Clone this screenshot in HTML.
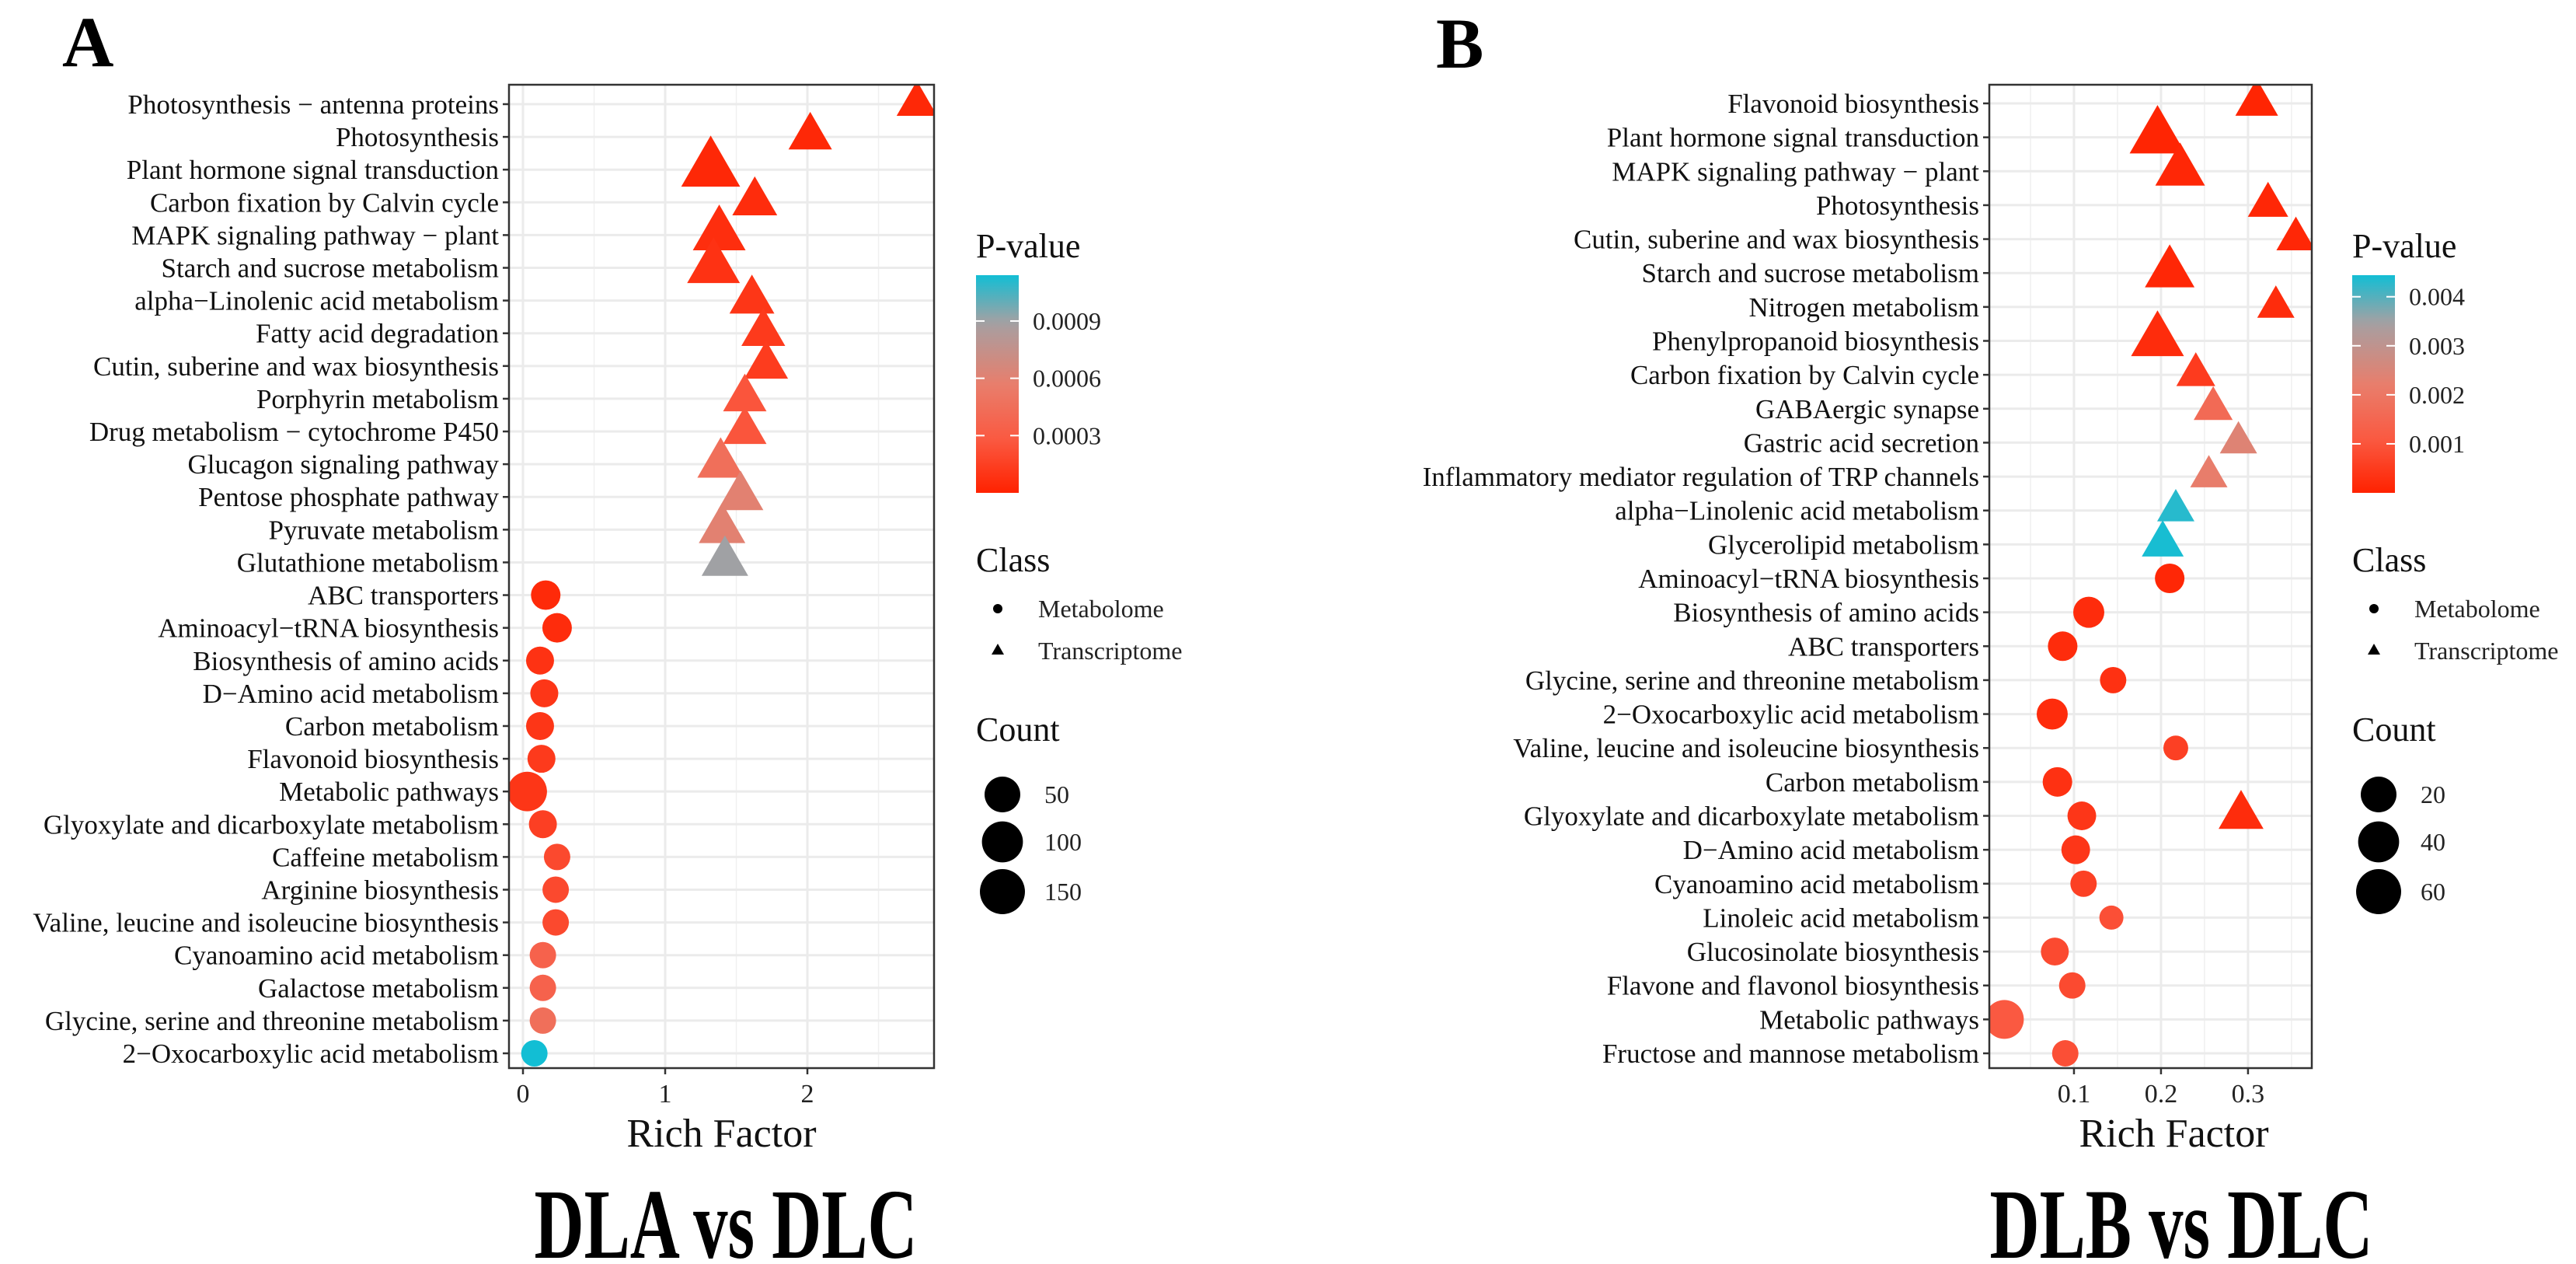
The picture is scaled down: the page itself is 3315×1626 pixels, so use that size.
<!DOCTYPE html>
<html><head><meta charset="utf-8">
<style>
html,body{margin:0;padding:0;background:#fff;}
svg{display:block;font-family:"Liberation Serif","Times New Roman",serif;}
svg text{font-family:"Liberation Serif","Times New Roman",serif;}
</style></head>
<body>
<svg id="chart" width="3315" height="1626" viewBox="0 0 3315 1626" xmlns="http://www.w3.org/2000/svg">
<rect x="0" y="0" width="3315" height="1626" fill="#fff"/>
<text x="80" y="85" font-size="92" font-weight="bold">A</text>
<text x="1848" y="87" font-size="92" font-weight="bold">B</text>
<text x="934" y="1618" font-size="128" font-weight="bold" text-anchor="middle" textLength="493" lengthAdjust="spacingAndGlyphs">DLA vs DLC</text>
<text x="2807" y="1618" font-size="128" font-weight="bold" text-anchor="middle" textLength="493" lengthAdjust="spacingAndGlyphs">DLB vs DLC</text>
<g id="panelA"></g>
<g id="panelB"></g>
</svg>
<script>
// ===== Panel A data =====
const catsA = ["Photosynthesis − antenna proteins","Photosynthesis","Plant hormone signal transduction","Carbon fixation by Calvin cycle","MAPK signaling pathway − plant","Starch and sucrose metabolism","alpha−Linolenic acid metabolism","Fatty acid degradation","Cutin, suberine and wax biosynthesis","Porphyrin metabolism","Drug metabolism − cytochrome P450","Glucagon signaling pathway","Pentose phosphate pathway","Pyruvate metabolism","Glutathione metabolism","ABC transporters","Aminoacyl−tRNA biosynthesis","Biosynthesis of amino acids","D−Amino acid metabolism","Carbon metabolism","Flavonoid biosynthesis","Metabolic pathways","Glyoxylate and dicarboxylate metabolism","Caffeine metabolism","Arginine biosynthesis","Valine, leucine and isoleucine biosynthesis","Cyanoamino acid metabolism","Galactose metabolism","Glycine, serine and threonine metabolism","2−Oxocarboxylic acid metabolism"];
const rowA = catsA.slice();
const richA = [2.77,2.02,1.32,1.63,1.38,1.34,1.61,1.69,1.71,1.56,1.56,1.39,1.53,1.40,1.42,0.16,0.24,0.12,0.15,0.12,0.13,0.03,0.14,0.24,0.23,0.23,0.14,0.14,0.14,0.08];
const pA = [0.00003,0.00003,0.00003,0.00005,0.00006,0.00008,0.0001,0.00012,0.00013,0.00026,0.00026,0.00045,0.0006,0.0006,0.0009,0.00004,0.00005,0.00008,0.0001,0.0001,0.00012,0.0001,0.00015,0.0002,0.0002,0.0002,0.00035,0.00035,0.00045,0.00114];
const countA = [5,11,82,15,46,46,15,12,12,11,11,20,17,20,20,13,13,7.6,7.6,7.6,7.6,84,7.6,3.6,3.6,3.6,3.6,3.6,3.6,3.6];
const classA = ["T","T","T","T","T","T","T","T","T","T","T","T","T","T","T","M","M","M","M","M","M","M","M","M","M","M","M","M","M","M"];
const xTicksA = [0,1,2];
const xTickLabelsA = ["0","1","2"];
const pTicksA = [0.0003,0.0006,0.0009];
const pTickLabelsA = ["0.0003","0.0006","0.0009"];
const countLegA = [50,100,150];

// ===== Panel B data =====
const catsB = ["Flavonoid biosynthesis","Plant hormone signal transduction","MAPK signaling pathway − plant","Photosynthesis","Cutin, suberine and wax biosynthesis","Starch and sucrose metabolism","Nitrogen metabolism","Phenylpropanoid biosynthesis","Carbon fixation by Calvin cycle","GABAergic synapse","Gastric acid secretion","Inflammatory mediator regulation of TRP channels","alpha−Linolenic acid metabolism","Glycerolipid metabolism","Aminoacyl−tRNA biosynthesis","Biosynthesis of amino acids","ABC transporters","Glycine, serine and threonine metabolism","2−Oxocarboxylic acid metabolism","Valine, leucine and isoleucine biosynthesis","Carbon metabolism","Glyoxylate and dicarboxylate metabolism","D−Amino acid metabolism","Cyanoamino acid metabolism","Linoleic acid metabolism","Glucosinolate biosynthesis","Flavone and flavonol biosynthesis","Metabolic pathways","Fructose and mannose metabolism"];
const rowB = catsB.concat(["Glyoxylate and dicarboxylate metabolism"]);
const richB = [0.31,0.196,0.222,0.323,0.355,0.21,0.332,0.196,0.24,0.26,0.289,0.255,0.217,0.202,0.21,0.117,0.087,0.145,0.075,0.217,0.081,0.109,0.102,0.111,0.143,0.078,0.098,0.02,0.09,0.292];
const pB = [0.00005,0.00005,0.0001,0.0001,0.0001,0.0001,0.0002,0.0002,0.0005,0.0016,0.0024,0.0022,0.0043,0.0044,0.0001,0.0002,0.0002,0.0003,0.0002,0.0006,0.0003,0.0004,0.0004,0.0006,0.0009,0.0008,0.0008,0.0011,0.0009,0.0002];
const countB = [3.7,25,12.6,1.9,1.1,12.6,0.43,18.6,1.1,1.1,0.43,0.43,0.43,3,5.3,8,5.3,1.4,8,0.4,5.3,4,4,1.4,0.15,3,1.4,31,1.4,6];
const classB = ["T","T","T","T","T","T","T","T","T","T","T","T","T","T","M","M","M","M","M","M","M","M","M","M","M","M","M","M","M","T"];
const xTicksB = [0.1,0.2,0.3];
const xTickLabelsB = ["0.1","0.2","0.3"];
const pTicksB = [0.001,0.002,0.003,0.004];
const pTickLabelsB = ["0.001","0.002","0.003","0.004"];
const countLegB = [20,40,60];

const NS = "http://www.w3.org/2000/svg";
const FF = '"Liberation Serif","Times New Roman",serif';
function mk(parent, tag, attrs, text){
  const e = document.createElementNS(NS, tag);
  for (const k in attrs) e.setAttribute(k, attrs[k]);
  if (text !== undefined) { e.textContent = text; e.setAttribute("font-family", FF); }
  parent.appendChild(e);
  return e;
}
const stops = [[0,[255,34,0]],[0.25,[250,90,66]],[0.5,[232,126,108]],[0.78,[166,160,162]],[1,[18,190,212]]];
function colorOf(t){
  t = Math.max(0, Math.min(1, t));
  for (let i=1;i<stops.length;i++){
    if (t <= stops[i][0]){
      const a = stops[i-1], b = stops[i];
      const f = (t-a[0])/(b[0]-a[0]);
      const c = a[1].map((v,j)=>Math.round(v+(b[1][j]-v)*f));
      return "rgb("+c.join(",")+")";
    }
  }
  return "rgb(18,190,212)";
}

function drawPanel(g, cfg){
  const {cats, rows, rich, pv, counts, cls, xTicks, xTickLabels, pTicks, pTickLabels, countLeg,
         left, right, top, bottom, xmin, xmax, pmax, k, b, legX, minorStep} = cfg;
  const n = cats.length;
  const y0 = top + cfg.firstRowOff, y1 = bottom - cfg.lastRowOff;
  const yOf = name => { const i = cats.indexOf(name); return y0 + i*(y1-y0)/(n-1); };
  const xOf = v => left + (v-xmin)/(xmax-xmin)*(right-left);
  const rOf = c => k*Math.sqrt(c) + b;
  const cid = "clip"+cfg.id;
  const defs = mk(g,"defs",{});
  const cp = mk(defs,"clipPath",{id:cid});
  mk(cp,"rect",{x:left,y:top,width:right-left,height:bottom-top});
  const grid = mk(g,"g",{});
  
  
  for (let v = Math.ceil(xmin/minorStep)*minorStep; v <= xmax; v += minorStep){
    const x = xOf(v);
    mk(grid,"line",{x1:x,x2:x,y1:top,y2:bottom,stroke:"#F0F0F0","stroke-width":1.5});
  }
  for (const v of xTicks){
    const x = xOf(v);
    mk(grid,"line",{x1:x,x2:x,y1:top,y2:bottom,stroke:"#EBEBEB","stroke-width":3});
  }
  for (const c of cats){
    const y = yOf(c);
    mk(grid,"line",{x1:left,x2:right,y1:y,y2:y,stroke:"#EBEBEB","stroke-width":3});
  }
  const marks = mk(g,"g",{"clip-path":"url(#"+cid+")"});
  for (let i=0;i<rows.length;i++){
    const x = xOf(rich[i]), y = yOf(rows[i]), r = rOf(counts[i]);
    const col = colorOf(pv[i]/pmax);
    let m;
    if (cls[i] === "T"){
      const hw = r*1.5, h = hw*1.732;
      m = mk(marks,"polygon",{points:`${x},${y-2*h/3} ${x-hw},${y+h/3} ${x+hw},${y+h/3}`, fill:col});
      
    } else {
      m = mk(marks,"circle",{cx:x,cy:y,r:r,fill:col});
      
    }
    
  }
  const fr = mk(g,"rect",{x:left,y:top,width:right-left,height:bottom-top,fill:"none",stroke:"#333","stroke-width":2.5});
  
  
  for (const c of cats){
    const y = yOf(c);
    mk(g,"line",{x1:left-8,x2:left,y1:y,y2:y,stroke:"#333","stroke-width":2.5});
    const t = mk(g,"text",{x:left-13,y:y+12,"font-size":35,"text-anchor":"end",fill:"#111"},c);
    
    
  }
  xTicks.forEach((v,i)=>{
    const x = xOf(v);
    mk(g,"line",{x1:x,x2:x,y1:bottom,y2:bottom+8,stroke:"#333","stroke-width":2.5});
    const t = mk(g,"text",{x:x,y:bottom+44,"font-size":34,"text-anchor":"middle",fill:"#222"},xTickLabels[i]);
    
    
  });
  const xt = mk(g,"text",{x:(left+right)/2+cfg.titleOff,y:1475,"font-size":52,"text-anchor":"middle",fill:"#111"},"Rich Factor");
  
  
  const lg = mk(g,"g",{});
  
  
  mk(lg,"text",{x:legX,y:331,"font-size":44,fill:"#111"},"P-value");
  const gid = "grad"+cfg.id;
  const lgd = mk(defs,"linearGradient",{id:gid,x1:0,y1:1,x2:0,y2:0});
  for (let s=0;s<=20;s++){ mk(lgd,"stop",{offset:s/20,"stop-color":colorOf(s/20)}); }
  const cbTop=354, cbBot=634, cbW=55;
  mk(lg,"rect",{x:legX,y:cbTop,width:cbW,height:cbBot-cbTop,fill:"url(#"+gid+")"});
  pTicks.forEach((v,i)=>{
    const y = cbBot - v/pmax*(cbBot-cbTop);
    mk(lg,"line",{x1:legX,x2:legX+11,y1:y,y2:y,stroke:"#fff","stroke-width":2});
    mk(lg,"line",{x1:legX+cbW-11,x2:legX+cbW,y1:y,y2:y,stroke:"#fff","stroke-width":2});
    mk(lg,"text",{x:legX+cbW+18,y:y+11,"font-size":32,fill:"#222"},pTickLabels[i]);
  });
  const cl = mk(g,"g",{});
  
  
  mk(cl,"text",{x:legX,y:735,"font-size":44,fill:"#111"},"Class");
  mk(cl,"circle",{cx:legX+28,cy:783,r:6,fill:"#000"});
  mk(cl,"text",{x:legX+80,y:794,"font-size":32,fill:"#222"},"Metabolome");
  const tx=legX+28, ty=837;
  mk(cl,"polygon",{points:`${tx},${ty-9} ${tx-8},${ty+5} ${tx+8},${ty+5}`,fill:"#000"});
  mk(cl,"text",{x:legX+80,y:848,"font-size":32,fill:"#222"},"Transcriptome");
  const cn = mk(g,"g",{});
  
  
  mk(cn,"text",{x:legX,y:953,"font-size":44,fill:"#111"},"Count");
  const cys=[1022,1083,1147];
  countLeg.forEach((c,i)=>{
    mk(cn,"circle",{cx:legX+34,cy:cys[i],r:rOf(c),fill:"#000"});
    mk(cn,"text",{x:legX+88,y:cys[i]+11,"font-size":32,fill:"#222"},String(c));
  });
}

drawPanel(document.getElementById("panelA"),{
  id:"A", cats:catsA, rows:rowA, rich:richA, pv:pA, counts:countA, cls:classA,
  xTicks:xTicksA, xTickLabels:xTickLabelsA, pTicks:pTicksA, pTickLabels:pTickLabelsA, countLeg:countLegA,
  left:655, right:1202, top:109, bottom:1374, xmin:-0.0984, xmax:2.8907, pmax:0.00114,
  k:1.158, b:14.8, legX:1256, minorStep:0.5, firstRowOff:25, lastRowOff:19, titleOff:0
});
drawPanel(document.getElementById("panelB"),{
  id:"B", cats:catsB, rows:rowB, rich:richB, pv:pB, counts:countB, cls:classB,
  xTicks:xTicksB, xTickLabels:xTickLabelsB, pTicks:pTicksB, pTickLabels:pTickLabelsB, countLeg:countLegB,
  left:2560, right:2975, top:109, bottom:1374, xmin:0.0027, xmax:0.3733, pmax:0.00444,
  k:1.83, b:14.8, legX:3027, minorStep:0.05, firstRowOff:24, lastRowOff:19, titleOff:30
});
</script>
</body></html>
